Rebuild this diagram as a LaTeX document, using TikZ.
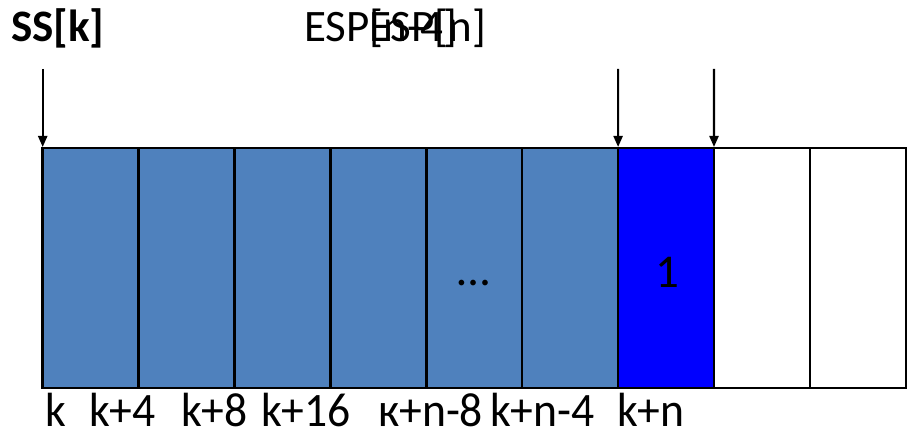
\documentclass[tikz,border=0pt]{standalone}
\usepackage{fontspec}
\setmainfont{Carlito}
\newfontfamily\addrfont[FakeStretch=0.95]{Carlito}
\usetikzlibrary{arrows.meta}
\definecolor{cellblue}{HTML}{4F81BD}
\definecolor{pureblue}{HTML}{0000FF}
\begin{document}
\begin{tikzpicture}[x=1pt,y=-1pt,
  cell/.style={draw=black,line width=2.5pt,minimum width=95.9pt,minimum height=240pt,inner sep=0pt,outer sep=0pt,anchor=north west},
  lbl/.style={inner sep=0pt,anchor=base west,font=\fontsize{47}{52}\selectfont},
  addr/.style={inner sep=0pt,anchor=base west,font=\addrfont\fontsize{48}{52}\selectfont},
  toplbl/.style={inner sep=0pt,anchor=base west,font=\fontsize{45}{50}\selectfont},
  ptr/.style={line width=2.2pt,-{Triangle[width=9pt,length=11pt]},shorten >=1pt}]
\useasboundingbox (0,0) rectangle (907,433);
% cells
\foreach \i/\col in {1/cellblue,2/cellblue,3/cellblue,4/cellblue,5/cellblue,6/cellblue,7/pureblue,8/white,9/white}{
  \node[cell,fill=\col] (c\i) at ({42.7+95.9*(\i-1)},148) {};
}
% cell contents
\node[lbl,anchor=base] (dots) at (474,285) {…};
\node[lbl,anchor=base] (one) at (667,287) {1};
% pointer labels
\node[toplbl,font=\fontsize{45}{50}\selectfont\bfseries] (ss) at (11,42) {SS[k]};
\node[toplbl] (espa) at (304,42) {ESP[n-4]};
\node[toplbl] (espb) at (369,42) {ESP[n]};
% pointers
\coordinate (p1) at (42.7,69);
\coordinate (p2) at (618.1,69);
\coordinate (p3) at (714,69);
\draw[ptr] (p1) -- (c1.north west);
\draw[ptr] (p2) -- (c7.north west);
\draw[ptr] (p3) -- (c8.north west);
% address labels
\node[addr] (l1) at (45,426) {k};
\node[addr] (l2) at (89,426) {k+4};
\node[addr] (l3) at (181,426) {k+8};
\node[addr] (l4) at (261,426) {k+16};
\node[addr] (l5) at (378,426) {к+n-8};
\node[addr] (l6) at (490,426) {k+n-4};
\node[addr] (l7) at (617,426) {k+n};
\end{tikzpicture}
\end{document}
